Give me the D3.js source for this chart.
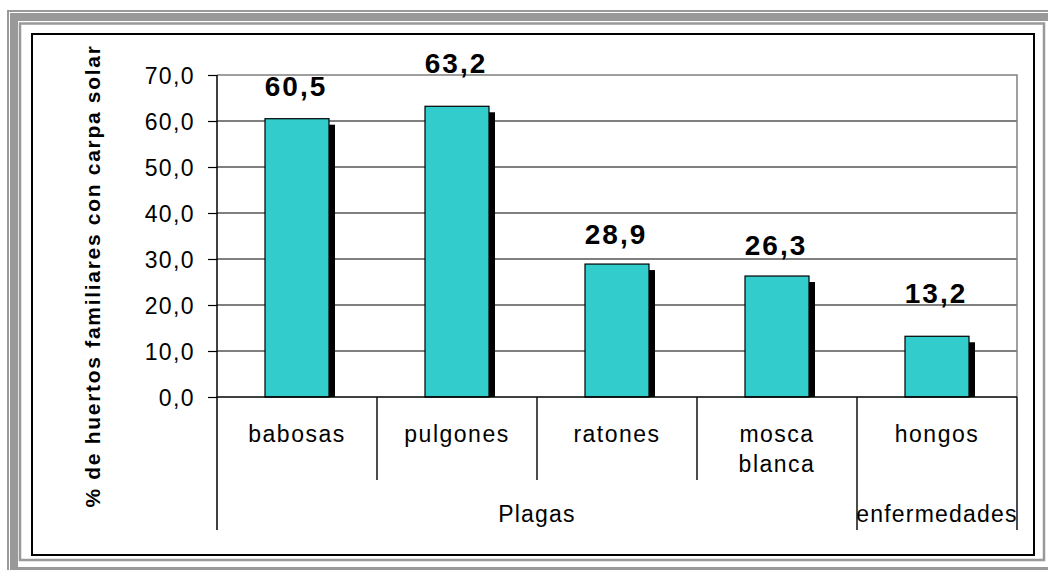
<!DOCTYPE html>
<html>
<head>
<meta charset="utf-8">
<script src="https://cdn.jsdelivr.net/npm/d3@7"></script>
<style>
  html, body { margin: 0; padding: 0; background: #ffffff; }
  svg { display: block; }
  text { font-family: "Liberation Sans", Arial, sans-serif; fill: #000; }
</style>
</head>
<body>
<svg id="chart" width="1048" height="570"></svg>
<script>
// Data
const categories = ["babosas", "pulgones", "ratones", "mosca blanca", "hongos"];
const values = [60.5, 63.2, 28.9, 26.3, 13.2];
const groupOf = ["Plagas", "Plagas", "Plagas", "Plagas", "enfermedades"];
const groupNames = ["Plagas", "enfermedades"];
const yTickValues = [0, 10, 20, 30, 40, 50, 60, 70];
const yTickLabels = ["0,0", "10,0", "20,0", "30,0", "40,0", "50,0", "60,0", "70,0"];
const valueLabels = ["60,5", "63,2", "28,9", "26,3", "13,2"];
const yTitle = "% de huertos familiares con carpa solar";

// Layout
const plot = { left: 217, right: 1017, top: 75, bottom: 397 };
const labelRaise = [23, 33, 20, 21, 33];   // gap between bar top and its value label baseline
const catRow1 = 442, catLineStep = 30, groupRow = 522;
const catDividerEnd = 480, groupDividerEnd = 530;
const barFill = "#33cccc";
const shadowOff = 6;

const svg = d3.select("#chart");

// Picture frame
const frame = svg.append("g").attr("fill", "none");
frame.append("rect").attr("x", 8).attr("y", 11).attr("width", 1200).attr("height", 1000)
  .attr("stroke", "#999").attr("stroke-width", 2);
frame.append("rect").attr("x", 14).attr("y", 17).attr("width", 1200).attr("height", 554)
  .attr("stroke", "#999").attr("stroke-width", 8);
frame.append("rect").attr("x", 20).attr("y", 23.5).attr("width", 1024).attr("height", 536.5)
  .attr("stroke", "#999").attr("stroke-width", 2.5);
frame.append("rect").attr("x", 32).attr("y", 34).attr("width", 1002).attr("height", 521)
  .attr("stroke", "#000").attr("stroke-width", 2);

// Scales
const x = d3.scaleBand().domain(categories).range([plot.left, plot.right]).padding(0);
const y = d3.scaleLinear().domain([0, 70]).range([plot.bottom, plot.top]);
const barW = x.bandwidth() * 0.4;

// Gridlines
svg.append("g").selectAll("line")
  .data(yTickValues.filter(v => v > 0 && v < 70))
  .join("line")
  .attr("x1", plot.left).attr("x2", plot.right)
  .attr("y1", d => y(d)).attr("y2", d => y(d))
  .attr("stroke", "#000").attr("stroke-width", 1.2);

// Plot area border (top and right)
svg.append("path")
  .attr("d", `M${plot.left},${y(70)}H${plot.right}V${y(0)}`)
  .attr("fill", "none").attr("stroke", "#808080").attr("stroke-width", 1.5);

// Y axis
const yAxis = d3.axisLeft(y).tickValues(yTickValues)
  .tickFormat((d, i) => yTickLabels[i]).tickSize(9).tickPadding(13);
const yg = svg.append("g").attr("transform", `translate(${plot.left},0)`).call(yAxis);
yg.select(".domain").remove();
yg.selectAll(".tick line").attr("stroke", "#000").attr("stroke-width", 1.2);
yg.selectAll(".tick text")
  .attr("font-size", 23).attr("letter-spacing", 1.4)
  .attr("font-family", "Liberation Sans, Arial, sans-serif")
  .attr("dy", "0.35em").attr("fill", "#000");

// Shadows and bars
const bars = svg.append("g");
bars.selectAll("rect.shadow")
  .data(values).join("rect").attr("class", "shadow")
  .attr("x", (d, i) => x(categories[i]) + (x.bandwidth() - barW) / 2 + shadowOff)
  .attr("y", d => y(d) + shadowOff)
  .attr("width", barW)
  .attr("height", d => y(0) - y(d) - shadowOff)
  .attr("fill", "#000");
bars.selectAll("rect.bar")
  .data(values).join("rect").attr("class", "bar")
  .attr("x", (d, i) => x(categories[i]) + (x.bandwidth() - barW) / 2)
  .attr("y", d => y(d))
  .attr("width", barW)
  .attr("height", d => y(0) - y(d))
  .attr("fill", barFill).attr("stroke", "#000").attr("stroke-width", 1.2);

// Value labels
svg.append("g").selectAll("text")
  .data(values).join("text")
  .attr("x", (d, i) => x(categories[i]) + x.bandwidth() / 2 - 1)
  .attr("y", (d, i) => y(d) - labelRaise[i])
  .attr("text-anchor", "middle")
  .attr("font-size", 28).attr("font-weight", "bold").attr("letter-spacing", 2)
  .text((d, i) => valueLabels[i]);

// Axis baseline and y axis line
svg.append("line")
  .attr("x1", plot.left).attr("x2", plot.right)
  .attr("y1", y(0)).attr("y2", y(0))
  .attr("stroke", "#000").attr("stroke-width", 1.5);
svg.append("line")
  .attr("x1", plot.left).attr("x2", plot.left)
  .attr("y1", y(70)).attr("y2", groupDividerEnd)
  .attr("stroke", "#000").attr("stroke-width", 1.5);

// Category dividers (inner level) and group dividers (outer level)
const boundaries = categories.map((c, i) => ({ pos: x(c) + x.bandwidth(), i }));
svg.append("g").selectAll("line")
  .data(boundaries).join("line")
  .attr("x1", d => d.pos).attr("x2", d => d.pos)
  .attr("y1", y(0))
  .attr("y2", d => (d.i === categories.length - 1 || groupOf[d.i] !== groupOf[d.i + 1]) ? groupDividerEnd : catDividerEnd)
  .attr("stroke", "#111").attr("stroke-width", 1.5);

// Category labels (wrapped on spaces)
const catText = svg.append("g").selectAll("text")
  .data(categories).join("text")
  .attr("text-anchor", "middle")
  .attr("font-size", 23).attr("letter-spacing", 1.5);
catText.each(function (c) {
  const t = d3.select(this);
  c.split(" ").forEach((w, k) => {
    t.append("tspan")
      .attr("x", x(c) + x.bandwidth() / 2)
      .attr("y", catRow1 + k * catLineStep)
      .text(w);
  });
});

// Group labels
svg.append("g").selectAll("text")
  .data(groupNames).join("text")
  .attr("x", g => {
    const idx = categories.map((c, i) => i).filter(i => groupOf[i] === g);
    const a = x(categories[idx[0]]);
    const b = x(categories[idx[idx.length - 1]]) + x.bandwidth();
    return (a + b) / 2;
  })
  .attr("y", groupRow)
  .attr("text-anchor", "middle")
  .attr("font-size", 23).attr("letter-spacing", 1.2)
  .text(g => g);

// Y axis title
svg.append("text")
  .attr("transform", `translate(100,276) rotate(-90)`)
  .attr("text-anchor", "middle")
  .attr("font-size", 21).attr("font-weight", "bold").attr("letter-spacing", 1.7)
  .text(yTitle);
</script>
</body>
</html>
